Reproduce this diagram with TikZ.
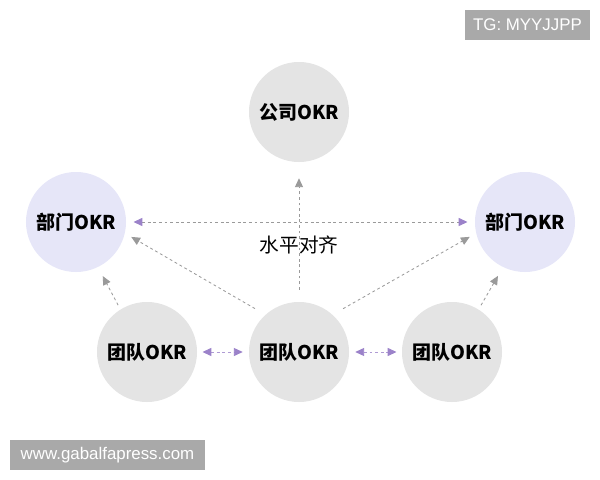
\documentclass[tikz,border=0pt]{standalone}
\usepackage{fontspec}
\setmainfont{Liberation Sans}
\newfontfamily\cjk{Noto Sans CJK SC}
\usetikzlibrary{arrows.meta}
\definecolor{okrgray}{HTML}{E4E4E4}
\definecolor{deptblue}{HTML}{E6E6F8}
\definecolor{linegray}{HTML}{9A9A9A}
\definecolor{alignpurple}{HTML}{9B82C9}
\definecolor{markgray}{HTML}{A9A9A9}
\tikzset{
  okrnode/.style={
    circle,
    fill=okrgray,
    minimum size=2.5cm,
    inner sep=0pt,
    font=\cjk\bfseries\fontsize{13.5}{16}\selectfont
  },
  deptnode/.style={
    okrnode,
    fill=deptblue
  },
  markbox/.style={
    rectangle,
    fill=markgray,
    text=white,
    inner sep=0pt,
    font=\fontsize{12}{14}\selectfont
  },
  upline/.style={
    -{Triangle[length=2.2mm,width=2mm]},
    draw=linegray,
    line width=0.6pt,
    dash pattern=on 2pt off 2pt
  },
  alignline/.style={
    {Triangle[length=2.2mm,width=2mm,color=alignpurple]}-{Triangle[length=2.2mm,width=2mm,color=alignpurple]},
    draw=linegray,
    line width=0.6pt,
    dash pattern=on 2pt off 2pt
  },
  teamline/.style={
    alignline,
    draw=alignpurple!80
  }
}
\begin{document}
\begin{tikzpicture}[x=0.025cm,y=-0.025cm]
  \useasboundingbox (0,0) rectangle (600,480);
  % circles
  \node[okrnode] (co) at (299,112) {公司OKR};
  \node[deptnode] (dl) at (76,222) {部门OKR};
  \node[deptnode] (dr) at (525,222) {部门OKR};
  \node[okrnode] (tl) at (147,352) {团队OKR};
  \node[okrnode] (tc) at (299,352) {团队OKR};
  \node[okrnode] (tr) at (452,352) {团队OKR};
  \node[font=\cjk\fontsize{14}{16}\selectfont] (align) at (299,245) {水平对齐};
  % watermarks
  \node[markbox, minimum width=125*0.025cm, minimum height=30*0.025cm] (tg) at (527.5,25) {TG: MYYJJPP};
  \node[markbox, minimum width=195*0.025cm, minimum height=30*0.025cm] (web) at (107.5,455) {www.gabalfapress.com};
  % upward links
  \draw[upline, shorten <=3mm, shorten >=4mm] (tc.north) -- (co.south);
  \draw[upline, shorten <=3mm, shorten >=1.8mm] (tc.132) -- (dl.-13);
  \draw[upline, shorten <=3mm, shorten >=1.8mm] (tc.48) -- (dr.193);
  \draw[upline, shorten <=1.2mm, shorten >=2.5mm] (tl.122) -- (dl.-64);
  \draw[upline, shorten <=1.2mm, shorten >=2.5mm] (tr.58) -- (dr.-116);
  % horizontal alignment
  \draw[alignline, shorten <=1.8mm, shorten >=1.8mm] (dl.east) -- (dr.west);
  \draw[teamline, shorten <=1.3mm, shorten >=1.5mm] (tl.east) -- (tc.west);
  \draw[teamline, shorten <=1.5mm, shorten >=1.3mm] (tc.east) -- (tr.west);
\end{tikzpicture}
\end{document}
